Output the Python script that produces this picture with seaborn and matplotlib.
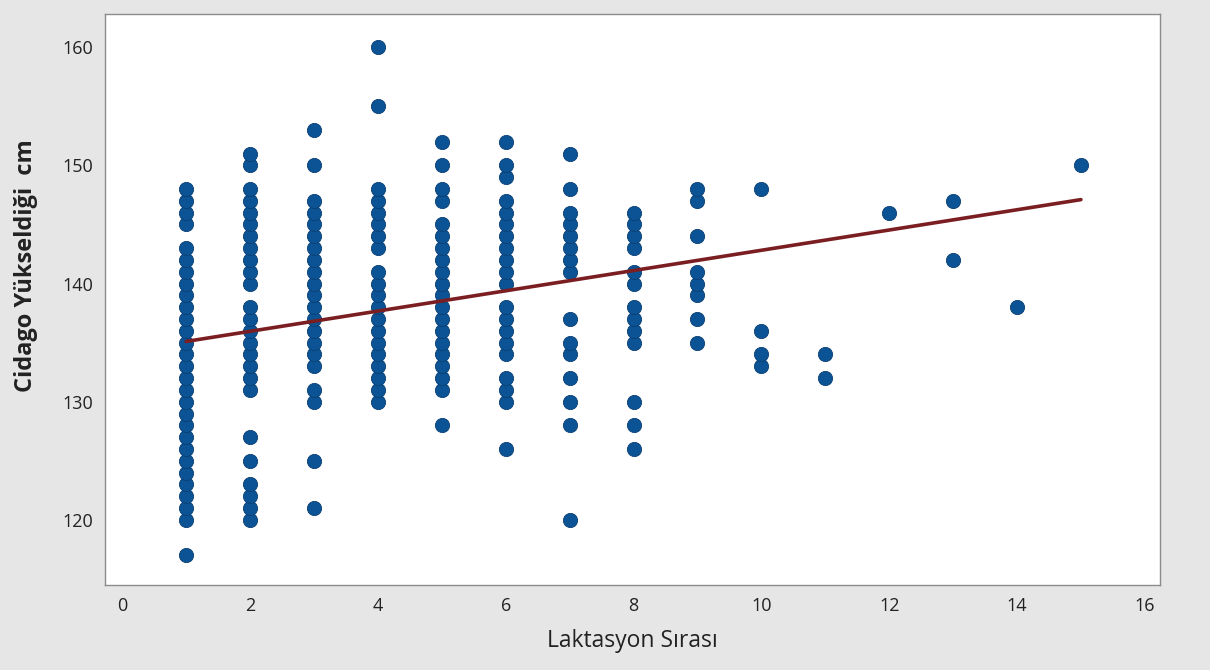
import numpy as np
import pandas as pd
import matplotlib
matplotlib.use("Agg")
import matplotlib.pyplot as plt
import seaborn as sns

# Laktasyon sırası -> observed Cidago yüksekliği values (cm)
lact_1 = [117] + list(range(120, 144)) + [145, 146, 147, 148]
lact_2 = [120, 121, 122, 123, 125, 127] + list(range(131, 139)) + list(range(140, 149)) + [150, 151]
lact_3 = [121, 125, 130, 131] + list(range(133, 148)) + [150, 153]
lact_4 = list(range(130, 142)) + list(range(143, 149)) + [155, 160]
lact_5 = [128, 131, 132] + list(range(133, 146)) + [147, 148, 150, 152]
lact_6 = [126, 130, 131, 132, 134, 135, 136, 137, 138] + list(range(140, 148)) + [149, 150, 152]
lact_7 = [120, 128, 130, 132, 134, 135, 137, 141, 142, 143, 144, 145, 146, 148, 151]
lact_8 = [126, 128, 130, 135, 136, 137, 138, 140, 141, 143, 144, 145, 146]
lact_9 = [135, 137, 139, 140, 141, 144, 147, 148]
lact_10 = [133, 134, 136, 148]
lact_11 = [132, 134]
lact_12 = [146]
lact_13 = [142, 147]
lact_14 = [138]
lact_15 = [150]

groups = {1: lact_1, 2: lact_2, 3: lact_3, 4: lact_4, 5: lact_5, 6: lact_6,
          7: lact_7, 8: lact_8, 9: lact_9, 10: lact_10, 11: lact_11,
          12: lact_12, 13: lact_13, 14: lact_14, 15: lact_15}

# fitted regression line (ends at x=1 and x=15)
fit_x = [1, 15]
fit_y = [135.1, 147.1]

x_ticks = [0, 2, 4, 6, 8, 10, 12, 14, 16]
y_ticks = [120, 130, 140, 150, 160]

xs, ys = [], []
for k, vals in groups.items():
    xs += [k] * len(vals)
    ys += vals
df = pd.DataFrame({"Laktasyon Sırası": xs, "Cidago": ys})
fit_df = pd.DataFrame({"x": fit_x, "y": fit_y})

sns.set_style("white")
plt.rcParams['font.family'] = ['Open Sans', 'DejaVu Sans']

fig = plt.figure(figsize=(12.1, 6.7), dpi=100, facecolor="#E6E6E6")
ax = fig.add_axes([0.0868, 0.127, 0.872, 0.852])
ax.set_facecolor("white")

sns.scatterplot(data=df, x="Laktasyon Sırası", y="Cidago", ax=ax,
                s=105, color="#0B5394", edgecolor="#0A3F73",
                linewidth=0.6, alpha=1, zorder=3)
sns.lineplot(data=fit_df, x="x", y="y", ax=ax, color="#7A1E22", lw=2.6,
             zorder=4)

ax.set_xlim(-0.27, 16.24)
ax.set_ylim(114.5, 162.8)
ax.set_xticks(x_ticks)
ax.set_yticks(y_ticks)
ax.tick_params(axis="both", direction="out", length=5, width=0.8,
               color="#8C8C8C", labelsize=13, labelcolor="#222222")
for s in ax.spines.values():
    s.set_color("#8C8C8C")
    s.set_linewidth(1.0)

ax.set_xlabel("Laktasyon Sırası", fontsize=16.5, color="#222222", labelpad=10)
ax.set_ylabel("Cidago Yükseldiği  cm", fontsize=17, color="#222222",
              fontweight="bold")
ax.yaxis.set_label_coords(-0.064, 0.56)

fig.savefig("out.png", dpi=100, facecolor=fig.get_facecolor())
